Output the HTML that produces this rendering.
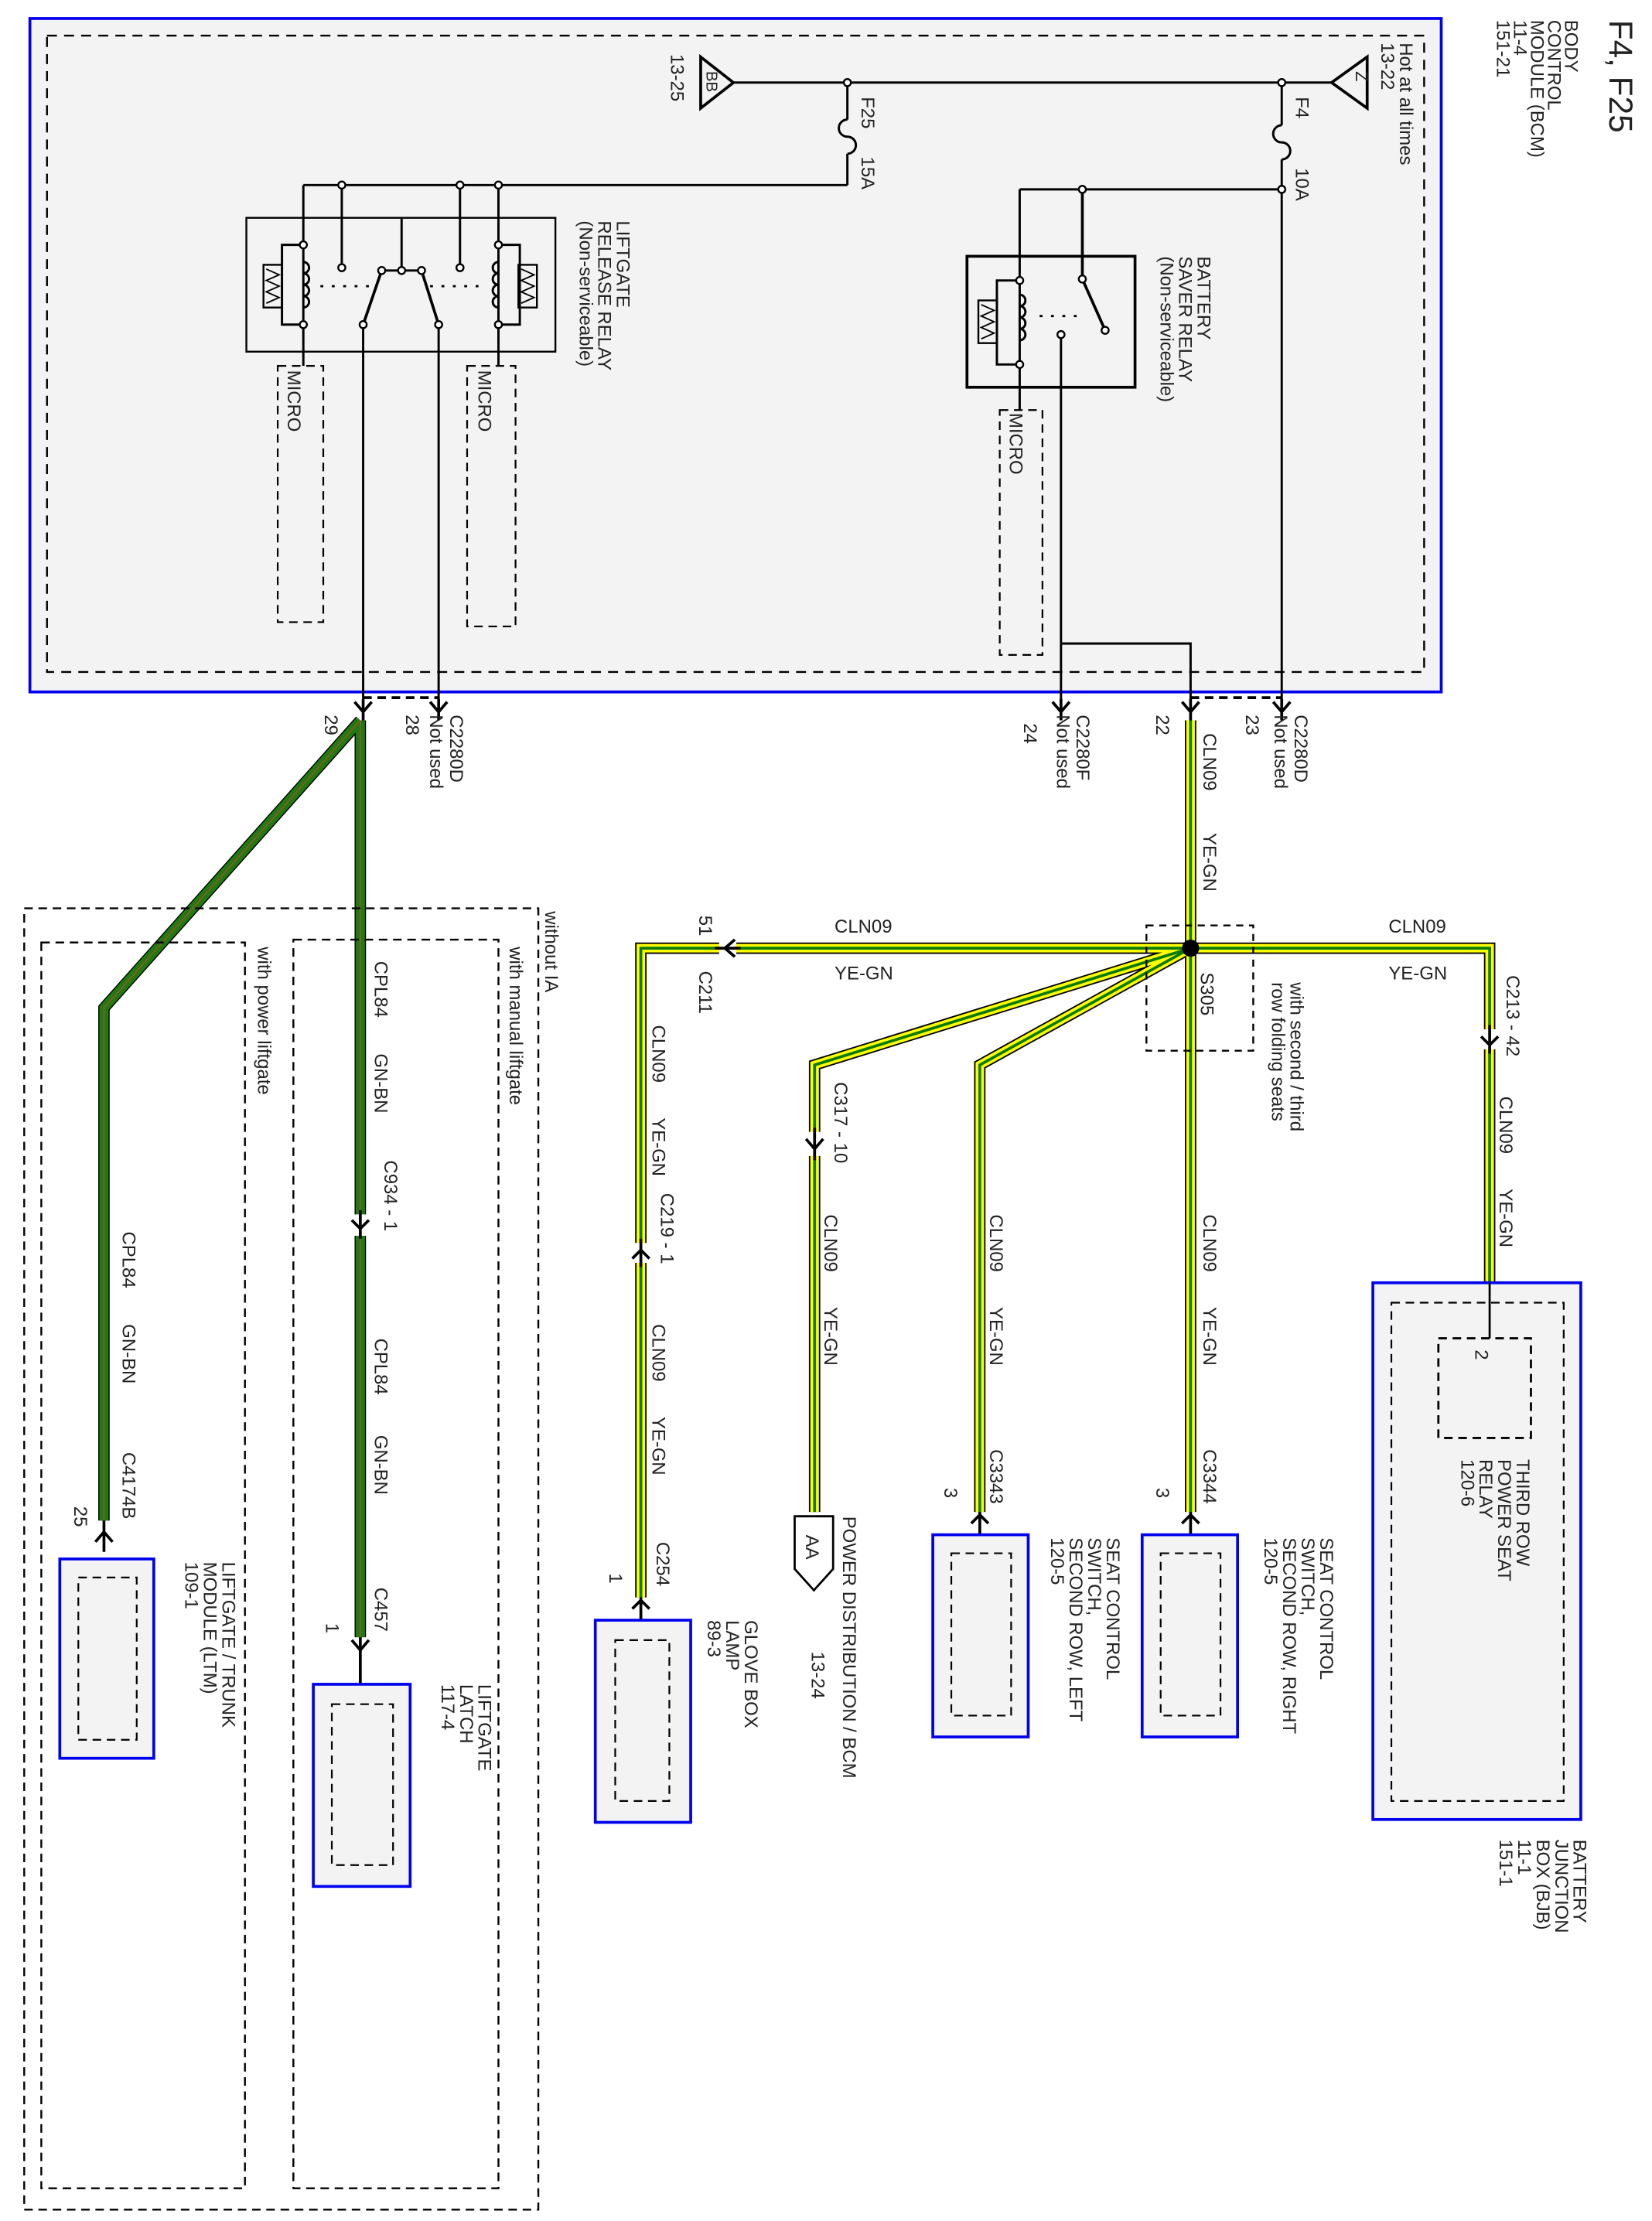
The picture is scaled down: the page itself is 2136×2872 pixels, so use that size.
<!DOCTYPE html>
<html><head><meta charset="utf-8"><style>
html,body{margin:0;padding:0;background:#fff;}
svg{display:block;}
text{font-family:"Liberation Sans",sans-serif;font-size:13px;fill:#222;}
</style></head><body>
<svg width="2136" height="2872" viewBox="0 0 1160 1560" preserveAspectRatio="none" xmlns="http://www.w3.org/2000/svg">
<defs>
<g id="ydn"><path d="M-6,-7 L0,0 L6,-7 M0,-9 V6" stroke="#000" stroke-width="2" fill="none"/></g>
</defs>
<!-- title -->
<text transform="translate(1130,14) rotate(90)" style="font-size:23px">F4, F25</text>
<text transform="translate(1099,14) rotate(90)">BODY<tspan x="0" dy="12">CONTROL</tspan><tspan x="0" dy="12">MODULE (BCM)</tspan><tspan x="0" dy="12">11-4</tspan><tspan x="0" dy="12">151-21</tspan></text>

<!-- BCM box -->
<rect x="21" y="13" width="991" height="473" fill="#f3f3f3" stroke="#0000ee" stroke-width="2"/>
<rect x="33" y="25" width="967" height="447" fill="none" stroke="#000" stroke-width="1.3" stroke-dasharray="7,5"/>

<g stroke="#000" stroke-width="1.6" fill="none">
<!-- top bus -->
<line x1="515" y1="58" x2="935" y2="58"/>
<!-- Z triangle -->
<path d="M935,58 L960,40 L960,76 Z" stroke-width="2"/>
<!-- BB triangle -->
<path d="M515,58 L492,40 L492,76 Z" stroke-width="2"/>
<!-- F4 fuse -->
<path d="M900,58 V88 M900,112 V140 M900,88 a3,3 0 0 0 0,12 a3,3 0 0 1 0,12"/>
<line x1="900" y1="140" x2="900" y2="497"/>
<line x1="716" y1="133" x2="900" y2="133"/>
<!-- battery saver relay -->
<rect x="679" y="180" width="118" height="92" stroke-width="2"/>
<line x1="716" y1="133" x2="716" y2="288"/>
<line x1="760" y1="133" x2="760" y2="196" stroke-width="2"/>
<line x1="760" y1="196" x2="776" y2="232" stroke-width="2"/>
<path d="M716,197 H700 V256 H716"/>
<rect x="687" y="211" width="13" height="30" stroke-width="1.3"/>
<path d="M689,214 l9,4 l-9,4 l9,4 l-9,4 l9,4 l-9,4" stroke-width="1"/>
<path d="M716,207 a4,4 0 0 1 0,8 a4,4 0 0 1 0,8 a4,4 0 0 1 0,8 a4,4 0 0 1 0,8"/>
<line x1="730" y1="222" x2="760" y2="222" stroke-dasharray="2,6"/>
<line x1="745" y1="235" x2="745" y2="500"/>
<path d="M745,452 H836 V500"/>
<rect x="702" y="288" width="30" height="172" stroke-width="1.2" stroke-dasharray="6,4"/>
<!-- F25 fuse -->
<path d="M595,58 V84 M595,108 V130 M595,84 a3,3 0 0 0 0,12 a3,3 0 0 1 0,12"/>
<line x1="213" y1="130" x2="595" y2="130"/>
<!-- liftgate relay -->
<rect x="173" y="153" width="217" height="94" stroke-width="1.3"/>
<line x1="213" y1="130" x2="213" y2="257"/>
<line x1="350" y1="130" x2="350" y2="257"/>
<line x1="240" y1="130" x2="240" y2="188"/>
<line x1="323" y1="130" x2="323" y2="188"/>
<line x1="282" y1="153" x2="282" y2="190"/>
<path d="M268,190 H296"/>
<path d="M268,190 L255,228 M296,190 L308,228" stroke-width="2"/>
<path d="M213,172 H198 V228 H213"/>
<path d="M350,172 H365 V228 H350"/>
<rect x="185" y="186" width="13" height="30" stroke-width="1.3"/>
<rect x="364" y="186" width="13" height="30" stroke-width="1.3"/>
<path d="M187,189 l9,4 l-9,4 l9,4 l-9,4 l9,4 l-9,4 M366,189 l9,4 l-9,4 l9,4 l-9,4 l9,4 l-9,4" stroke-width="1"/>
<path d="M213,184 a4,4 0 0 1 0,8 a4,4 0 0 1 0,8 a4,4 0 0 1 0,8 a4,4 0 0 1 0,8"/>
<path d="M350,184 a4,4 0 0 0 0,8 a4,4 0 0 0 0,8 a4,4 0 0 0 0,8 a4,4 0 0 0 0,8"/>
<line x1="225" y1="201" x2="262" y2="201" stroke-dasharray="2,6"/>
<line x1="302" y1="201" x2="338" y2="201" stroke-dasharray="2,6"/>
<line x1="255" y1="228" x2="255" y2="500"/>
<line x1="308" y1="228" x2="308" y2="500"/>
<rect x="195" y="257" width="32" height="180" stroke-width="1.2" stroke-dasharray="6,4"/>
<rect x="328" y="257" width="34" height="183" stroke-width="1.2" stroke-dasharray="6,4"/>
<!-- connector dashed link -->
<line x1="836" y1="490" x2="900" y2="490" stroke-dasharray="6,4" stroke-width="2"/>
<line x1="255" y1="490" x2="308" y2="490" stroke-dasharray="6,4" stroke-width="2"/>
</g>
<!-- node dots -->
<g fill="#fff" stroke="#000" stroke-width="1.3">
<circle cx="900" cy="58" r="2.5"/><circle cx="900" cy="133" r="2.5"/><circle cx="760" cy="133" r="2.5"/><circle cx="595" cy="58" r="2.5"/>
<circle cx="760" cy="196" r="2.5"/><circle cx="776" cy="232" r="2.5"/><circle cx="745" cy="235" r="2.5"/>
<circle cx="716" cy="197" r="2.5"/><circle cx="716" cy="256" r="2.5"/>
<circle cx="240" cy="130" r="2.5"/><circle cx="323" cy="130" r="2.5"/><circle cx="350" cy="130" r="2.5"/>
<circle cx="240" cy="188" r="2.5"/><circle cx="323" cy="188" r="2.5"/><circle cx="268" cy="190" r="2.5"/><circle cx="296" cy="190" r="2.5"/><circle cx="282" cy="190" r="2.5"/>
<circle cx="213" cy="172" r="2.5"/><circle cx="213" cy="228" r="2.5"/><circle cx="350" cy="172" r="2.5"/><circle cx="350" cy="228" r="2.5"/>
<circle cx="255" cy="228" r="2.5"/><circle cx="308" cy="228" r="2.5"/>
</g>
<!-- BCM labels -->
<text transform="translate(952,50) rotate(90)" style="font-size:12px">Z</text>
<text transform="translate(496,50) rotate(90)" style="font-size:11px">BB</text>
<text transform="translate(983,30) rotate(90)">Hot at all times<tspan x="0" dy="13">13-22</tspan></text>
<text transform="translate(471,38) rotate(90)">13-25</text>
<text transform="translate(910,68) rotate(90)">F4</text>
<text transform="translate(910,118) rotate(90)">10A</text>
<text transform="translate(605,68) rotate(90)">F25</text>
<text transform="translate(605,110) rotate(90)">15A</text>
<text transform="translate(841,180) rotate(90)">BATTERY<tspan x="0" dy="13">SAVER RELAY</tspan><tspan x="0" dy="13">(Non-serviceable)</tspan></text>
<text transform="translate(433,155) rotate(90)">LIFTGATE<tspan x="0" dy="13">RELEASE RELAY</tspan><tspan x="0" dy="13">(Non-serviceable)</tspan></text>
<text transform="translate(709,290) rotate(90)">MICRO</text>
<text transform="translate(202,260) rotate(90)">MICRO</text>
<text transform="translate(336,260) rotate(90)">MICRO</text>

<!-- connector symbols at 500 -->
<use href="#ydn" x="900" y="500"/><use href="#ydn" x="836" y="500"/><use href="#ydn" x="745" y="500"/>
<use href="#ydn" x="255" y="500"/><use href="#ydn" x="308" y="500"/>
<text transform="translate(909,502) rotate(90)">C2280D<tspan x="0" dy="14">Not used</tspan></text>
<text transform="translate(875,502) rotate(90)">23</text>
<text transform="translate(812,502) rotate(90)">22</text>
<text transform="translate(756,502) rotate(90)">C2280F<tspan x="0" dy="14">Not used</tspan></text>
<text transform="translate(719,508) rotate(90)">24</text>
<text transform="translate(316,502) rotate(90)">C2280D<tspan x="0" dy="14">Not used</tspan></text>
<text transform="translate(285,502) rotate(90)">28</text>
<text transform="translate(228,502) rotate(90)">29</text>

<!-- YE-GN wires -->
<g fill="none" stroke-linejoin="miter">
<g stroke="#000" stroke-width="8">
<path d="M836,506 V1062"/><path d="M836,666 H1046 V900"/><path d="M836,666 H450 V1122"/>
<path d="M836,666 L572,748 V1062"/><path d="M836,666 L688,748 V1062"/>
</g>
<g stroke="#ffff00" stroke-width="6">
<path d="M836,506 V1062"/><path d="M836,666 H1046 V900"/><path d="M836,666 H450 V1122"/>
<path d="M836,666 L572,748 V1062"/><path d="M836,666 L688,748 V1062"/>
</g>
<g stroke="#0a7a0a" stroke-width="2">
<path d="M836,506 V1062"/><path d="M836,666 H1046 V900"/><path d="M836,666 H450 V1122"/>
<path d="M836,666 L572,748 V1062"/><path d="M836,666 L688,748 V1062"/>
</g>
<!-- gaps for connectors -->
<g stroke="#fff" stroke-width="10">
<line x1="505" y1="666" x2="517" y2="666"/>
<line x1="1046" y1="723" x2="1046" y2="737"/>
<line x1="450" y1="873" x2="450" y2="887"/>
<line x1="572" y1="795" x2="572" y2="812"/>
</g>
<!-- green wires -->
<g stroke="#000" stroke-width="8"><path d="M253,506 L73,708 V1068"/><path d="M253,506 V1150"/></g>
<g stroke="#1f7a12" stroke-width="6.5"><path d="M253,506 L73,708 V1068"/><path d="M253,506 V1150"/></g>
<g stroke="#8a5a20" stroke-width="1"><path d="M253,506 L73,708 V1068"/><path d="M253,506 V1150"/></g>
<g stroke="#fff" stroke-width="10"><line x1="253" y1="853" x2="253" y2="868"/></g>
</g>
<!-- connector symbols -->
<g stroke="#000" stroke-width="2" fill="none">
<path d="M502,666 H520 M516,660 L509,666 L516,672"/>
<path d="M1046,720 V740 M1040,728 L1046,734 L1052,728"/>
<path d="M450,870 V890 M444,884 L450,878 L456,884"/>
<path d="M572,792 V815 M566,800 L572,807 L578,800"/>
<path d="M253,850 V870 M247,857 L253,863 L259,857"/>
<path d="M73,1068 V1090 M67,1083 L73,1076 L79,1083"/>
<path d="M253,1150 V1185 M247,1152 L253,1159 L259,1152"/>
<path d="M450,1122 V1140 M444,1130 L450,1124 L456,1130"/>
<path d="M688,1062 V1080 M682,1070 L688,1064 L694,1070"/>
<path d="M836,1062 V1080 M830,1070 L836,1064 L842,1070"/>
<path d="M1046,900 V940"/>
</g>
<!-- splice -->
<circle cx="836" cy="666" r="6" fill="#000"/>
<rect x="805" y="650" width="75" height="88" fill="none" stroke="#000" stroke-width="1.3" stroke-dasharray="5,4"/>
<text transform="translate(843,683) rotate(90)">S305</text>
<text transform="translate(906,690) rotate(90)">with second / third<tspan x="0" dy="13">row folding seats</tspan></text>

<!-- wire labels -->
<text transform="translate(845,515) rotate(90)">CLN09</text><text transform="translate(845,585) rotate(90)">YE-GN</text>
<text x="975" y="655">CLN09</text><text x="975" y="688">YE-GN</text>
<text x="586" y="655">CLN09</text><text x="586" y="688">YE-GN</text>
<text transform="translate(491,643) rotate(90)">51</text>
<text transform="translate(491,682) rotate(90)">C211</text>
<text transform="translate(1058,685) rotate(90)">C213 - 42</text>
<text transform="translate(1053,770) rotate(90)">CLN09</text><text transform="translate(1053,835) rotate(90)">YE-GN</text>
<text transform="translate(458,720) rotate(90)">CLN09</text><text transform="translate(458,785) rotate(90)">YE-GN</text>
<text transform="translate(464,838) rotate(90)">C219 - 1</text>
<text transform="translate(458,930) rotate(90)">CLN09</text><text transform="translate(458,995) rotate(90)">YE-GN</text>
<text transform="translate(461,1083) rotate(90)">C254</text>
<text transform="translate(428,1105) rotate(90)">1</text>
<text transform="translate(586,760) rotate(90)">C317 - 10</text>
<text transform="translate(579,853) rotate(90)">CLN09</text><text transform="translate(579,918) rotate(90)">YE-GN</text>
<text transform="translate(695,853) rotate(90)">CLN09</text><text transform="translate(695,918) rotate(90)">YE-GN</text>
<text transform="translate(695,1018) rotate(90)">C3343</text>
<text transform="translate(663,1045) rotate(90)">3</text>
<text transform="translate(845,853) rotate(90)">CLN09</text><text transform="translate(845,918) rotate(90)">YE-GN</text>
<text transform="translate(845,1018) rotate(90)">C3344</text>
<text transform="translate(812,1045) rotate(90)">3</text>

<!-- AA -->
<path d="M558,1065 H585 V1102 L571.5,1117 L558,1102 Z" fill="#fff" stroke="#000" stroke-width="1.5"/>
<text transform="translate(566,1078) rotate(90)">AA</text>
<text transform="translate(592,1065) rotate(90)">POWER DISTRIBUTION / BCM</text>
<text transform="translate(570,1160) rotate(90)">13-24</text>

<!-- Glove box -->
<rect x="418" y="1138" width="67" height="142" fill="#f3f3f3" stroke="#0000ee" stroke-width="2"/>
<rect x="432" y="1152" width="38" height="113" fill="none" stroke="#000" stroke-width="1.2" stroke-dasharray="6,4"/>
<text transform="translate(523,1138) rotate(90)">GLOVE BOX<tspan x="0" dy="13">LAMP</tspan><tspan x="0" dy="13">89-3</tspan></text>
<!-- seat left -->
<rect x="655" y="1078" width="67" height="142" fill="#f3f3f3" stroke="#0000ee" stroke-width="2"/>
<rect x="668" y="1091" width="42" height="114" fill="none" stroke="#000" stroke-width="1.2" stroke-dasharray="6,4"/>
<text transform="translate(777,1080) rotate(90)">SEAT CONTROL<tspan x="0" dy="13">SWITCH,</tspan><tspan x="0" dy="13">SECOND ROW, LEFT</tspan><tspan x="0" dy="13">120-5</tspan></text>
<!-- seat right -->
<rect x="802" y="1078" width="67" height="142" fill="#f3f3f3" stroke="#0000ee" stroke-width="2"/>
<rect x="815" y="1091" width="42" height="114" fill="none" stroke="#000" stroke-width="1.2" stroke-dasharray="6,4"/>
<text transform="translate(927,1080) rotate(90)">SEAT CONTROL<tspan x="0" dy="13">SWITCH,</tspan><tspan x="0" dy="13">SECOND ROW, RIGHT</tspan><tspan x="0" dy="13">120-5</tspan></text>
<!-- BJB -->
<rect x="964" y="901" width="146" height="377" fill="#f3f3f3" stroke="#0000ee" stroke-width="2"/>
<rect x="977" y="915" width="121" height="350" fill="none" stroke="#000" stroke-width="1.2" stroke-dasharray="6,4"/>
<rect x="1010" y="940" width="65" height="70" fill="none" stroke="#000" stroke-width="1.5" stroke-dasharray="6,4"/>
<line x1="1046" y1="901" x2="1046" y2="940" stroke="#000" stroke-width="1.5"/>
<text transform="translate(1036,948) rotate(90)">2</text>
<text transform="translate(1065,1025) rotate(90)">THIRD ROW<tspan x="0" dy="13">POWER SEAT</tspan><tspan x="0" dy="13">RELAY</tspan><tspan x="0" dy="13">120-6</tspan></text>
<text transform="translate(1105,1292) rotate(90)">BATTERY<tspan x="0" dy="13">JUNCTION</tspan><tspan x="0" dy="13">BOX (BJB)</tspan><tspan x="0" dy="13">11-1</tspan><tspan x="0" dy="13">151-1</tspan></text>

<!-- without IA boxes -->
<g fill="none" stroke="#000" stroke-width="1.3" stroke-dasharray="6,4">
<rect x="17" y="638" width="361" height="914"/>
<rect x="206" y="660" width="144" height="877"/>
<rect x="29" y="662" width="143" height="875"/>
</g>
<text transform="translate(383,640) rotate(90)">without IA</text>
<text transform="translate(358,665) rotate(90)">with manual liftgate</text>
<text transform="translate(181,665) rotate(90)">with power liftgate</text>

<text transform="translate(263,675) rotate(90)">CPL84</text><text transform="translate(263,740) rotate(90)">GN-BN</text>
<text transform="translate(270,815) rotate(90)">C934 - 1</text>
<text transform="translate(263,940) rotate(90)">CPL84</text><text transform="translate(263,1008) rotate(90)">GN-BN</text>
<text transform="translate(263,1115) rotate(90)">C457</text>
<text transform="translate(229,1140) rotate(90)">1</text>
<text transform="translate(86,865) rotate(90)">CPL84</text><text transform="translate(86,930) rotate(90)">GN-BN</text>
<text transform="translate(86,1020) rotate(90)">C4174B</text>
<text transform="translate(52,1058) rotate(90)">25</text>

<!-- liftgate latch -->
<rect x="220" y="1183" width="68" height="142" fill="#f3f3f3" stroke="#0000ee" stroke-width="2"/>
<rect x="233" y="1197" width="43" height="113" fill="none" stroke="#000" stroke-width="1.2" stroke-dasharray="6,4"/>
<text transform="translate(336,1183) rotate(90)">LIFTGATE<tspan x="0" dy="13">LATCH</tspan><tspan x="0" dy="13">117-4</tspan></text>
<!-- LTM -->
<rect x="42" y="1095" width="66" height="140" fill="#f3f3f3" stroke="#0000ee" stroke-width="2"/>
<rect x="55" y="1108" width="41" height="114" fill="none" stroke="#000" stroke-width="1.2" stroke-dasharray="6,4"/>
<text transform="translate(156,1097) rotate(90)">LIFTGATE / TRUNK<tspan x="0" dy="13">MODULE (LTM)</tspan><tspan x="0" dy="13">109-1</tspan></text>
</svg>
</body></html>
